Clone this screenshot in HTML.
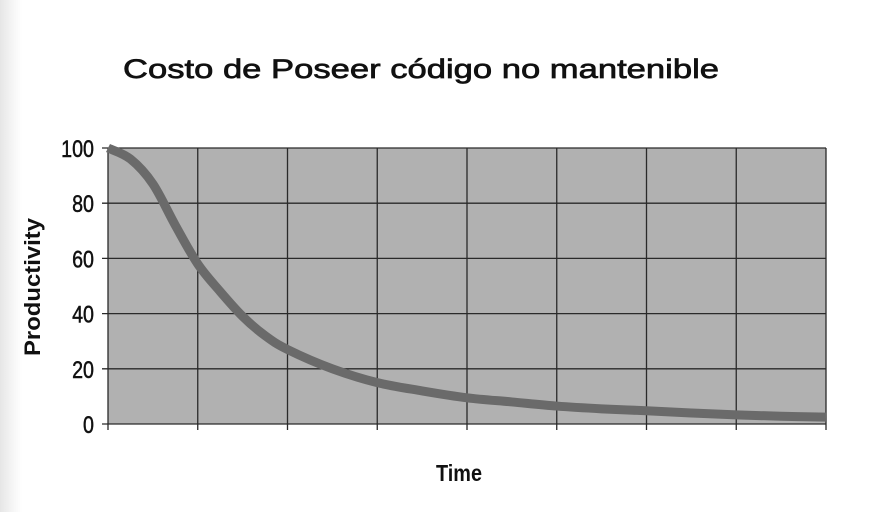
<!DOCTYPE html>
<html><head><meta charset="utf-8"><style>
html,body{margin:0;padding:0;background:#fff;}
#wrap{position:relative;width:886px;height:512px;overflow:hidden;background:linear-gradient(to right,#e6e6e6 0px,#f7f7f7 14px,#fff 22px);}
</style></head><body>
<div id="wrap">
<svg id="chart" width="886" height="512" style="position:absolute;left:0;top:0">
<text x="123" y="78" font-family="Liberation Sans, sans-serif" font-size="27" fill="#111" stroke="#111" stroke-width="0.7" textLength="596" lengthAdjust="spacingAndGlyphs">Costo de Poseer código no mantenible</text>
<text transform="translate(40,287) rotate(-90)" text-anchor="middle" font-family="Liberation Sans, sans-serif" font-weight="bold" font-size="22" fill="#111" textLength="138" lengthAdjust="spacingAndGlyphs">Productivity</text>
<text x="436" y="481" font-family="Liberation Sans, sans-serif" font-weight="bold" font-size="23" fill="#111" textLength="46" lengthAdjust="spacingAndGlyphs">Time</text>
</svg>
</div>
<script>
const yTicks=[0,20,40,60,80,100];
const xCats=[0,1,2,3,4,5,6,7,8];
const tValues=[0,0.25,0.5,0.75,1,1.25,1.5,1.75,2,2.5,3,3.5,4,4.5,5,5.5,6,6.5,7,7.5,8];
const productivity=[100,96,87,72,58,48,39,32,27,20,15,12,9.5,8,6.5,5.5,4.8,4,3.3,2.8,2.5];
const NS='http://www.w3.org/2000/svg';
const svg=document.getElementById('chart');
const X0=108,X1=826,Y0=424,Y1=148;
const xs=t=>X0+(X1-X0)*t/8;
const ys=v=>Y0-(Y0-Y1)*v/100;
function mk(tag,attrs){const e=document.createElementNS(NS,tag);for(const k in attrs)e.setAttribute(k,attrs[k]);svg.appendChild(e);return e;}
const bg=mk('rect',{x:X0,y:Y1,width:X1-X0,height:Y0-Y1,fill:'#b1b1b1'});


yTicks.forEach(v=>{
 const l=mk('line',{x1:X0-6,x2:X1,y1:ys(v),y2:ys(v),stroke:'#2a2a2a','stroke-width':1.3});
 
 
 const t=mk('text',{x:X0-14,y:ys(v)+9,'text-anchor':'end','font-family':'Liberation Sans, sans-serif','font-size':24,fill:'#111',stroke:'#111','stroke-width':0.5,transform:`translate(${X0-14},0) scale(0.82,1) translate(${-(X0-14)},0)`});
 t.textContent=v;
 
 
});
xCats.forEach(c=>{
 const l=mk('line',{x1:xs(c),x2:xs(c),y1:Y1,y2:Y0+6,stroke:'#2a2a2a','stroke-width':1.3});
 
 
});
const pts=tValues.map((t,i)=>[xs(t),ys(productivity[i])]);
let d='M'+pts[0][0]+','+pts[0][1];
for(let i=0;i<pts.length-1;i++){
 const p0=pts[Math.max(0,i-1)],p1=pts[i],p2=pts[i+1],p3=pts[Math.min(pts.length-1,i+2)];
 const c1=[p1[0]+(p2[0]-p0[0])/6,p1[1]+(p2[1]-p0[1])/6];
 const c2=[p2[0]-(p3[0]-p1[0])/6,p2[1]-(p3[1]-p1[1])/6];
 d+=` C${c1[0]},${c1[1]} ${c2[0]},${c2[1]} ${p2[0]},${p2[1]}`;
}
const line=mk('path',{d:d,fill:'none',stroke:'#6a6a6a','stroke-width':9,'stroke-linecap':'butt'});


</script>
</body></html>
